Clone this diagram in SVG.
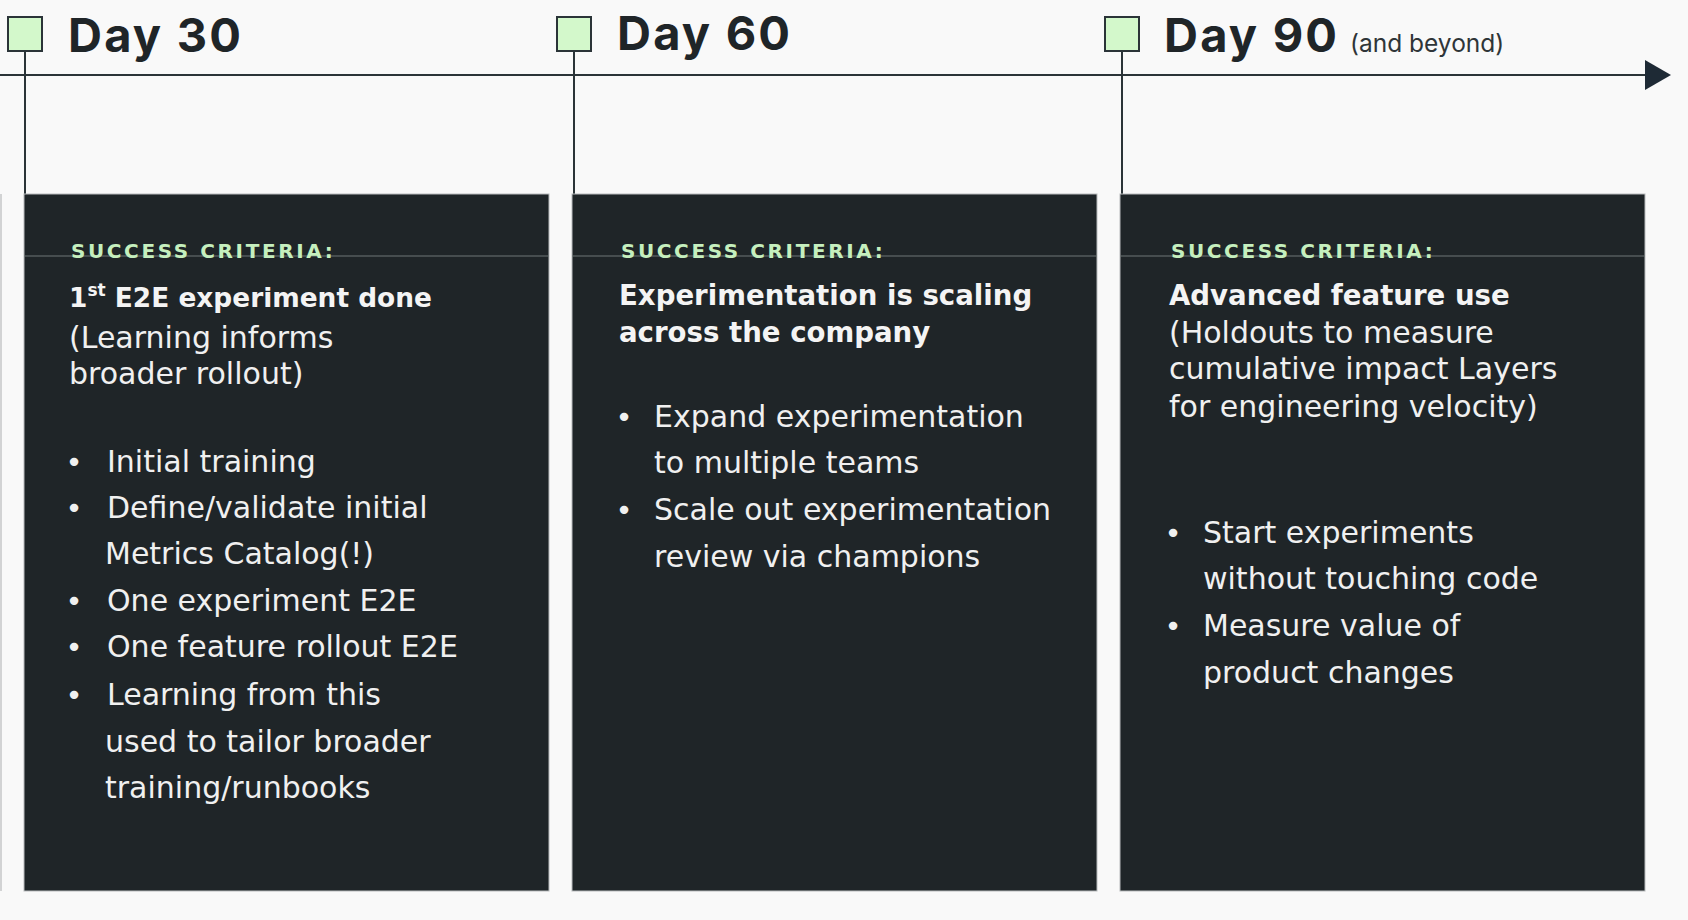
<svg xmlns="http://www.w3.org/2000/svg" width="1688" height="920" viewBox="0 0 1688 920">
  <style>
    .bg { fill: #f9f9f9; }
    .box { fill: #1f2528; stroke: #b9bcbd; stroke-width: 1; }
    .rule { stroke: #6f7676; stroke-width: 1; }
    .marker { fill: #d3f8cb; stroke: #2b3438; stroke-width: 2; }
    .conn { stroke: #2b3438; stroke-width: 2; fill: none; }
    .day { font-family: Inter, "Liberation Sans", sans-serif; font-weight: 700; font-size: 47px; fill: #1f2528; letter-spacing: 2.2px; }
    .sub { font-family: Inter, "Liberation Sans", sans-serif; font-size: 24.5px; fill: #2f3538; }
    .crit { font-family: "DejaVu Sans", sans-serif; font-weight: 700; font-size: 20px; letter-spacing: 2.6px; fill: #c5efbe; }
    .ttl { font-family: "DejaVu Sans", sans-serif; font-weight: 700; font-size: 27.6px; fill: #f4f4f4; }
    .ttl1 { font-size: 26.4px; }
    .txt { font-family: "DejaVu Sans", sans-serif; font-size: 30px; fill: #f0f0f0; }
    .bul { font-family: "DejaVu Sans", sans-serif; font-size: 29px; fill: #f0f0f0; text-anchor: middle; }
  </style>
  <rect class="bg" x="0" y="0" width="1688" height="920"/>
  <line x1="1" y1="194" x2="1" y2="891" stroke="#c4c6c7" stroke-width="1.5"/>

  <g id="connectors">
    <line class="conn" x1="0" y1="75" x2="1645" y2="75"/>
    <path d="M1645,60 L1671,75 L1645,90 Z" fill="#1e2a35"/>
    <line class="conn" x1="25" y1="51" x2="25" y2="194"/>
    <line class="conn" x1="574" y1="51" x2="574" y2="194"/>
    <line class="conn" x1="1122" y1="51" x2="1122" y2="194"/>
  </g>

  <g id="milestone-day30">
    <rect class="marker" x="8" y="17" width="34" height="34"/>
    <text class="day" x="68" y="52">Day 30</text>
  </g>
  <g id="milestone-day60">
    <rect class="marker" x="557" y="17" width="34" height="34"/>
    <text class="day" x="617" y="50">Day 60</text>
  </g>
  <g id="milestone-day90">
    <rect class="marker" x="1105" y="17" width="34" height="34"/>
    <text class="day" x="1164" y="52">Day 90</text>
    <text class="sub" x="1350" y="52">(and beyond)</text>
  </g>

  <g id="box-day30">
    <rect class="box" x="24" y="194" width="525" height="697"/>
    <line class="rule" x1="24" y1="256" x2="549" y2="256"/>
    <text class="crit" x="71" y="258">SUCCESS CRITERIA:</text>
    <text class="ttl ttl1" x="69" y="307">1<tspan font-size="17" dy="-11">st</tspan><tspan dy="11"> E2E experiment done</tspan></text>
    <text class="txt" x="69" y="348">(Learning informs</text>
    <text class="txt" x="69" y="384">broader rollout)</text>
    <text class="bul" x="74" y="472">•</text>
    <text class="txt" x="107" y="472">Initial training</text>
    <text class="bul" x="74" y="518">•</text>
    <text class="txt" x="107" y="518">Define/validate initial</text>
    <text class="txt" x="105" y="564">Metrics Catalog(!)</text>
    <text class="bul" x="74" y="611">•</text>
    <text class="txt" x="107" y="611">One experiment E2E</text>
    <text class="bul" x="74" y="657">•</text>
    <text class="txt" x="107" y="657">One feature rollout E2E</text>
    <text class="bul" x="74" y="705">•</text>
    <text class="txt" x="107" y="705">Learning from this</text>
    <text class="txt" x="105" y="752">used to tailor broader</text>
    <text class="txt" x="105" y="798">training/runbooks</text>
  </g>

  <g id="box-day60">
    <rect class="box" x="572" y="194" width="525" height="697"/>
    <line class="rule" x1="572" y1="256" x2="1097" y2="256"/>
    <text class="crit" x="621" y="258">SUCCESS CRITERIA:</text>
    <text class="ttl" x="619" y="305">Experimentation is scaling</text>
    <text class="ttl" x="619" y="342">across the company</text>
    <text class="bul" x="624" y="427">•</text>
    <text class="txt" x="654" y="427">Expand experimentation</text>
    <text class="txt" x="654" y="473">to multiple teams</text>
    <text class="bul" x="624" y="520">•</text>
    <text class="txt" x="654" y="520">Scale out experimentation</text>
    <text class="txt" x="654" y="567">review via champions</text>
  </g>

  <g id="box-day90">
    <rect class="box" x="1120" y="194" width="525" height="697"/>
    <line class="rule" x1="1120" y1="256" x2="1645" y2="256"/>
    <text class="crit" x="1171" y="258">SUCCESS CRITERIA:</text>
    <text class="ttl" x="1169" y="305">Advanced feature use</text>
    <text class="txt" x="1169" y="343">(Holdouts to measure</text>
    <text class="txt" x="1169" y="379">cumulative impact Layers</text>
    <text class="txt" x="1169" y="417">for engineering velocity)</text>
    <text class="bul" x="1173" y="543">•</text>
    <text class="txt" x="1203" y="543">Start experiments</text>
    <text class="txt" x="1203" y="589">without touching code</text>
    <text class="bul" x="1173" y="636">•</text>
    <text class="txt" x="1203" y="636">Measure value of</text>
    <text class="txt" x="1203" y="683">product changes</text>
  </g>
</svg>
